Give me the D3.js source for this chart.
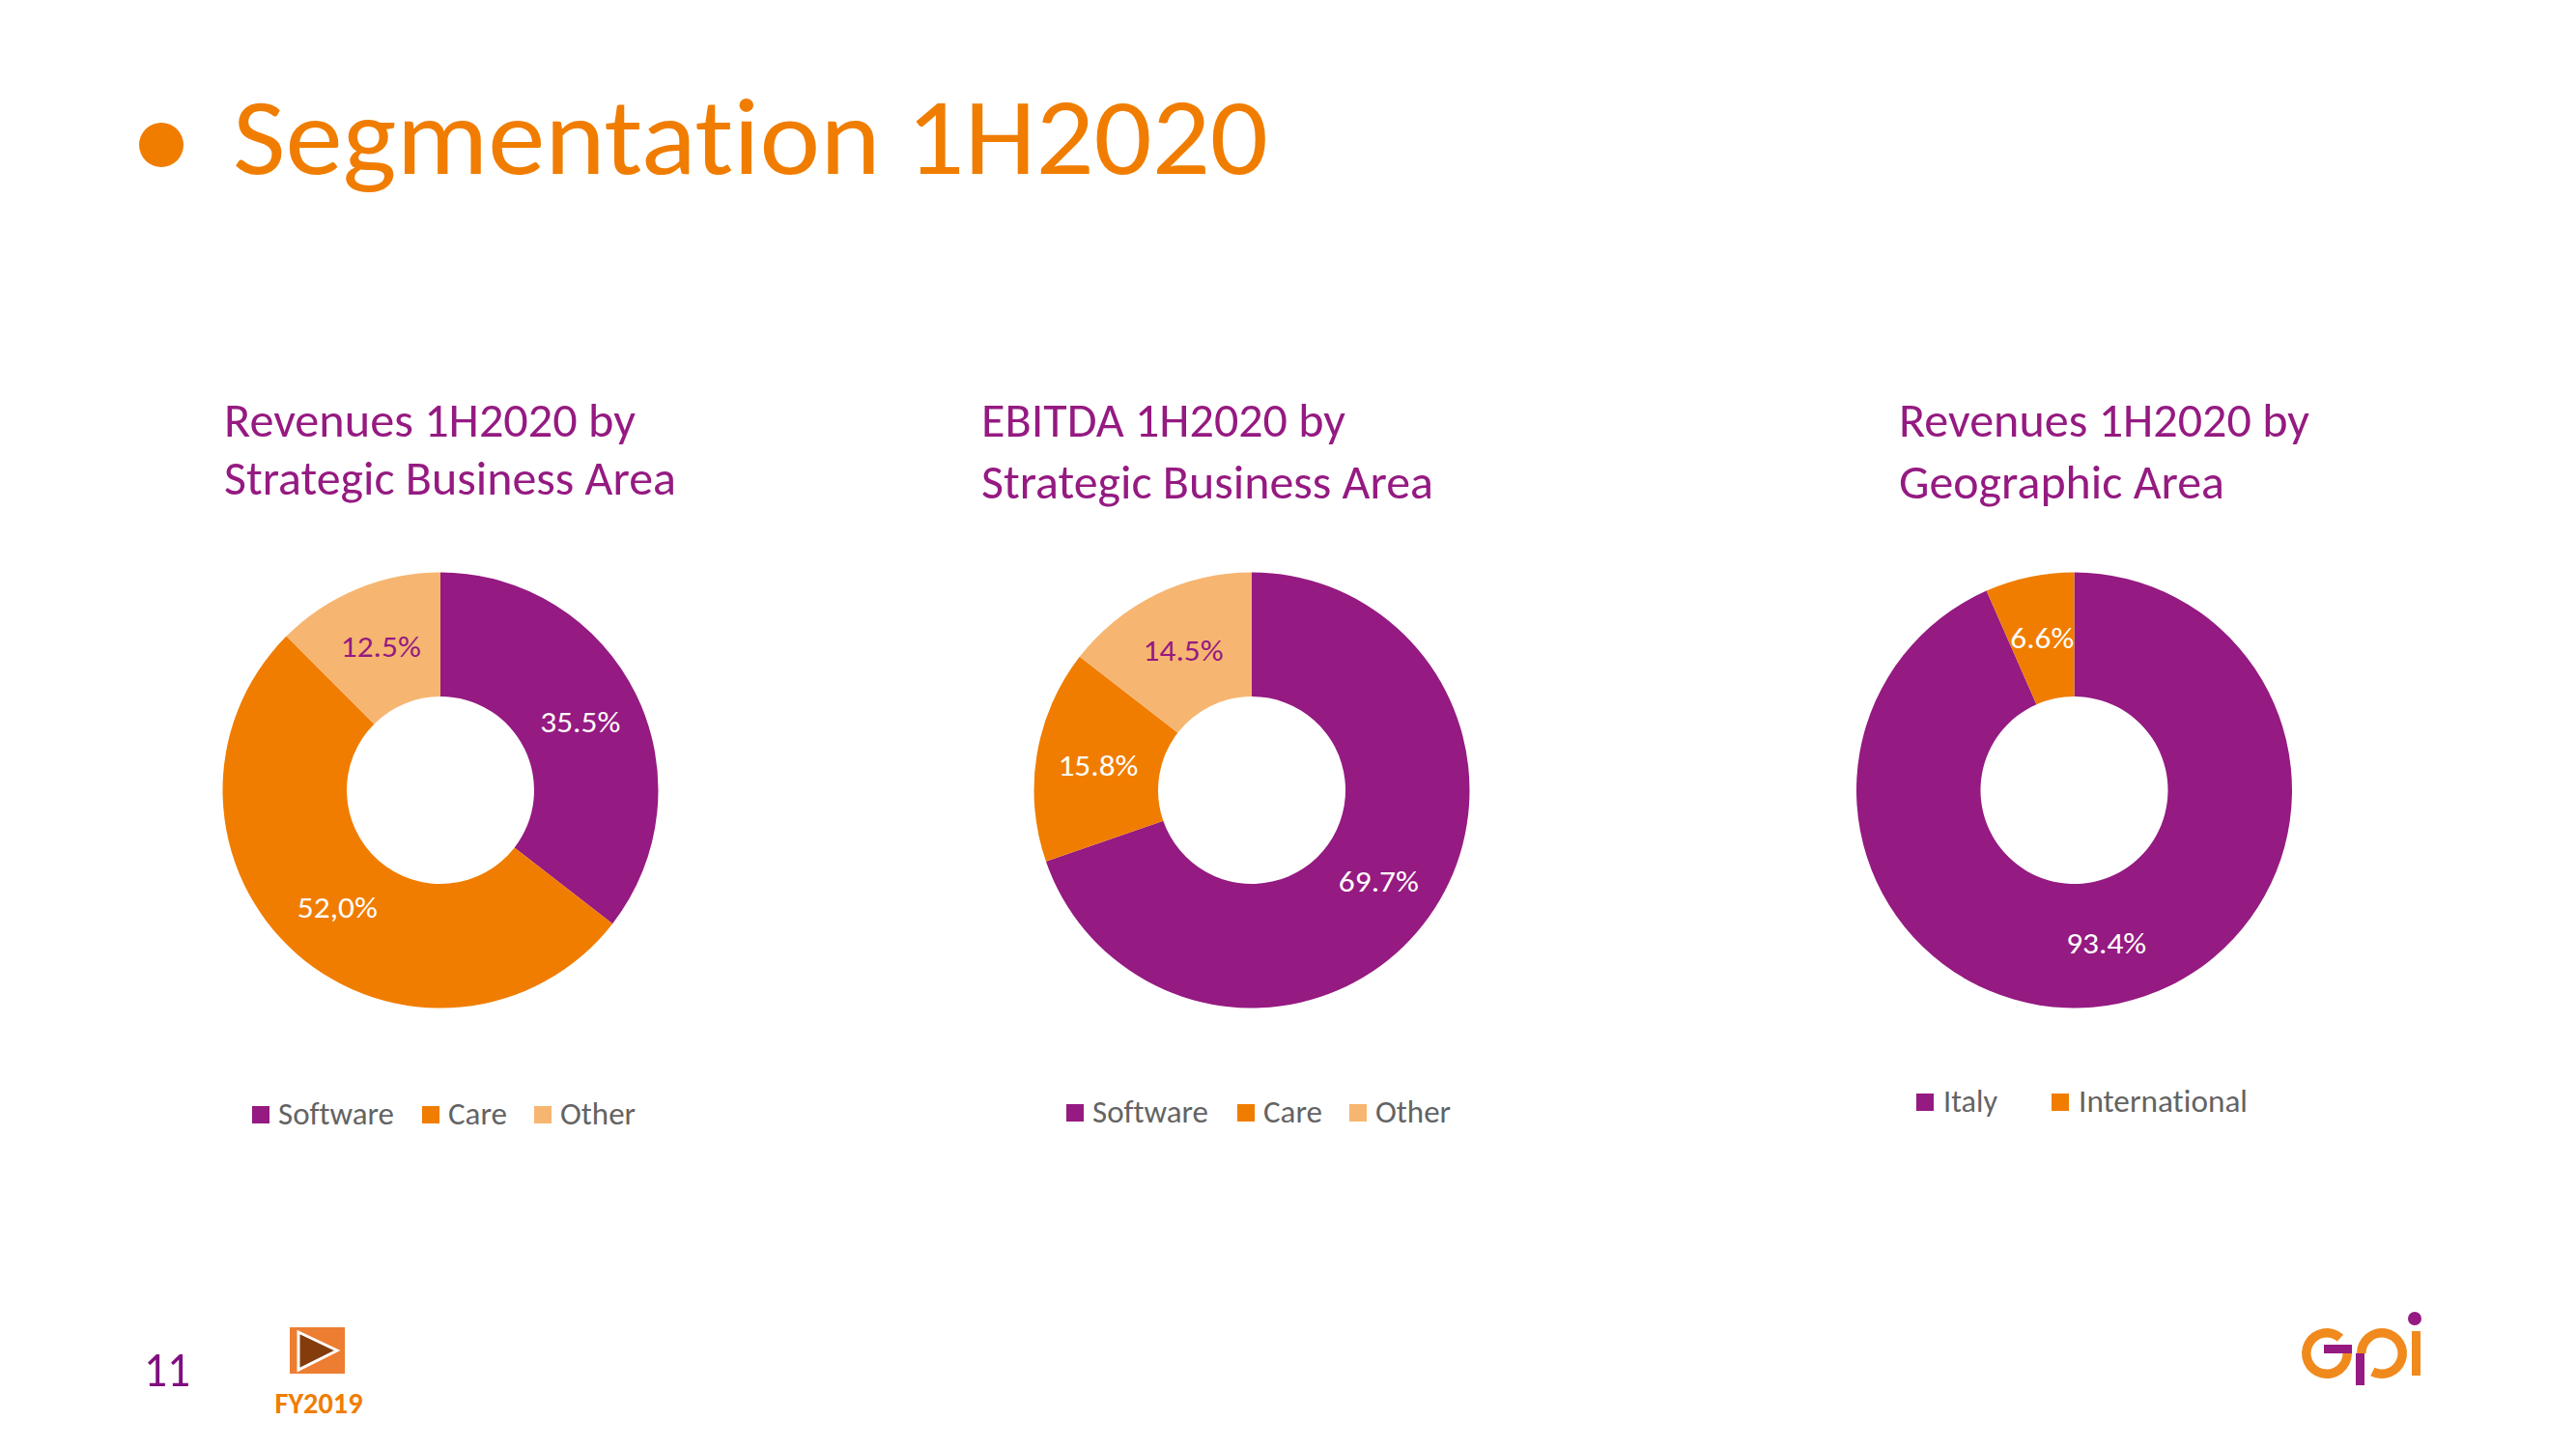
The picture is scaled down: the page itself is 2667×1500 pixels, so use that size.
<!DOCTYPE html>
<html>
<head>
<meta charset="utf-8">
<script src="https://cdn.jsdelivr.net/npm/d3@7"></script>
<style>
  html, body { margin: 0; padding: 0; background: #fff; }
  text { font-family: Carlito, Calibri, Lato, sans-serif; font-variant-ligatures: none; }
</style>
</head>
<body>
<div id="slide"></div>
<script>
// chart values
var sbaCategories = ["Software", "Care", "Other"];
var geoCategories = ["Italy", "International"];
var revenueSba = [35.5, 52.0, 12.5];
var revenueSbaLabels = ["35.5%", "52,0%", "12.5%"];
var ebitdaSba = [69.7, 15.8, 14.5];
var ebitdaSbaLabels = ["69.7%", "15.8%", "14.5%"];
var revenueGeo = [93.4, 6.6];
var revenueGeoLabels = ["93.4%", "6.6%"];

var purple = "#951a81", orange = "#f07d00", peach = "#f6b671";

var width = 2667, height = 1500;
var outerR = 225.5, innerR = 97;

var svg = d3.select("#slide").append("svg")
  .attr("width", width)
  .attr("height", height)
  .style("display", "block");

// squeeze Lato down to the narrower widths of the original face
function put(x, y, str, size, fill, w, anchor, weight) {
  var t = svg.append("text")
    .attr("x", x).attr("y", y)
    .attr("font-size", size)
    .attr("fill", fill)
    .attr("text-anchor", anchor || "start")
    .attr("font-weight", weight || 400)
    .text(str);
  if (w) t.attr("textLength", w).attr("lengthAdjust", "spacingAndGlyphs");
  return t;
}

// heading
svg.append("circle").attr("cx", 167).attr("cy", 150).attr("r", 23).attr("fill", orange);
put(241, 180, "Segmentation 1H2020", 114, orange, 1072);

var panels = [
  {
    title: ["Revenues 1H2020 by", "Strategic Business Area"], titleX: 232, titleY: [452, 512], titleW: [426, 468],
    cats: sbaCategories, values: revenueSba, labels: revenueSbaLabels, cx: 456,
    legendY: 1154, swatchX: [261, 437, 553], textX: [288, 464, 580], textW: [120, 61, 78],
    labelFill: ["#fff", "#fff", purple]
  },
  {
    title: ["EBITDA 1H2020 by", "Strategic Business Area"], titleX: 1016, titleY: [452, 516], titleW: [377, 468],
    cats: sbaCategories, values: ebitdaSba, labels: ebitdaSbaLabels, cx: 1296,
    legendY: 1152, swatchX: [1104, 1281, 1397], textX: [1131, 1308, 1424], textW: [120, 61, 78],
    labelFill: ["#fff", "#fff", purple]
  },
  {
    title: ["Revenues 1H2020 by", "Geographic Area"], titleX: 1966, titleY: [452, 516], titleW: [425, 337],
    cats: geoCategories, values: revenueGeo, labels: revenueGeoLabels, cx: 2147.5,
    legendY: 1141, swatchX: [1984, 2124], textX: [2012, 2152], textW: [56, 175],
    labelFill: ["#fff", "#fff"]
  }
];

var pie = d3.pie().sort(null);
var arc = d3.arc().innerRadius(innerR).outerRadius(outerR);
var cy = 818;

panels.forEach(function (p) {
  var color = d3.scaleOrdinal().domain(p.cats).range([purple, orange, peach]);

  p.title.forEach(function (line, i) {
    put(p.titleX, p.titleY[i], line, 50, purple, p.titleW[i]);
  });

  var g = svg.append("g").attr("transform", "translate(" + p.cx + "," + cy + ")");
  var slices = pie(p.values);

  g.selectAll("path")
    .data(slices)
    .enter().append("path")
    .attr("d", arc)
    .attr("fill", function (d, i) { return color(p.cats[i]); });

  g.selectAll("text")
    .data(slices)
    .enter().append("text")
    .attr("transform", function (d) { return "translate(" + arc.centroid(d) + ")"; })
    .attr("dy", "0.36em")
    .attr("text-anchor", "middle")
    .attr("font-size", 31)
    .attr("fill", function (d, i) { return p.labelFill[i]; })
    .attr("textLength", function (d, i) { return p.labels[i].length == 4 ? 66 : 83; })
    .attr("lengthAdjust", "spacingAndGlyphs")
    .text(function (d, i) { return p.labels[i]; });

  // legend
  p.cats.forEach(function (c, i) {
    svg.append("rect")
      .attr("x", p.swatchX[i]).attr("y", p.legendY - 9)
      .attr("width", 18).attr("height", 18)
      .attr("fill", color(c));
    put(p.textX[i], p.legendY + 10, c, 33, "#636363", p.textW[i]);
  });
});

// page number and back button
put(149, 1435, "11", 51, "#800f7f", 48);
svg.append("rect").attr("x", 300).attr("y", 1374).attr("width", 57).attr("height", 48).attr("fill", "#ed7d31");
svg.append("path")
  .attr("d", "M309,1379L349,1398L309,1418Z")
  .attr("fill", "#843c0c").attr("stroke", "#fff").attr("stroke-width", 3);
put(330, 1463, "FY2019", 30, orange, 91, "middle", 700);

// gpi logo
var logoOrange = "#f08a1d";
var ring = d3.arc().innerRadius(16.5).outerRadius(26);
svg.append("path")
  .attr("transform", "translate(2409,1401)")
  .attr("d", ring({ startAngle: Math.PI / 2, endAngle: 2 * Math.PI + 0.72 }))
  .attr("fill", logoOrange);
svg.append("rect").attr("x", 2406).attr("y", 1392).attr("width", 29).attr("height", 9).attr("fill", purple);
svg.append("path")
  .attr("transform", "translate(2466,1401)")
  .attr("d", ring({ startAngle: -Math.PI / 2, endAngle: Math.PI * 1.15 }))
  .attr("fill", logoOrange);
svg.append("rect").attr("x", 2439).attr("y", 1401).attr("width", 9).attr("height", 33).attr("fill", purple);
svg.append("rect").attr("x", 2497).attr("y", 1378).attr("width", 9).attr("height", 46).attr("fill", logoOrange);
svg.append("circle").attr("cx", 2500).attr("cy", 1365).attr("r", 7).attr("fill", purple);
</script>
</body>
</html>
